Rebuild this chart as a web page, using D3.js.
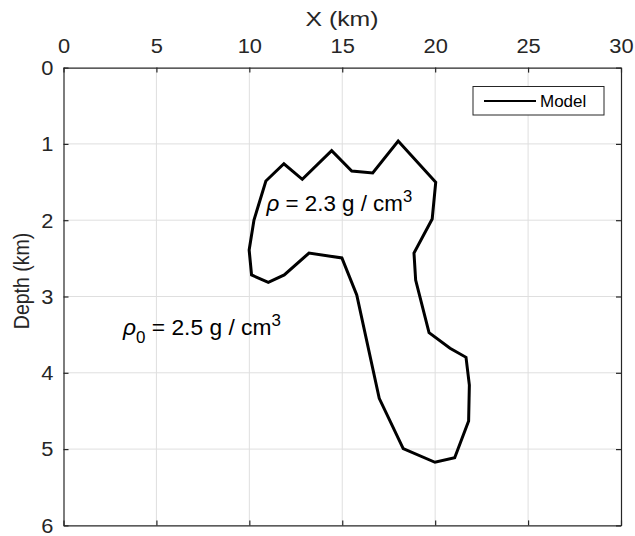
<!DOCTYPE html>
<html>
<head>
<meta charset="utf-8">
<script src="https://cdn.jsdelivr.net/npm/d3@7"></script>
<style>
  body { margin: 0; background: #fff; }
  svg { display: block; font-family: "Liberation Sans", Arial, Helvetica, sans-serif; }
</style>
</head>
<body>
<svg id="chart" width="635" height="536"></svg>
<script>
// Anomalous body outline: horizontal position (km) and depth (km)
const bodyX = [10.89, 11.86, 12.85, 14.43, 15.51, 16.64, 18.01, 20.03, 19.84, 18.86, 18.95, 19.67,
               20.80, 21.66, 21.84, 21.80, 21.05, 19.99, 18.28, 16.99, 15.78, 14.98, 13.21, 11.88,
               11.02, 10.12, 9.99, 10.25];
const bodyDepth = [1.486, 1.26, 1.464, 1.089, 1.355, 1.381, 0.962, 1.503, 1.984, 2.43, 2.784, 3.474,
                   3.679, 3.797, 4.16, 4.632, 5.113, 5.173, 4.995, 4.334, 2.98, 2.495, 2.43, 2.718,
                   2.814, 2.718, 2.39, 1.997];
const xTicks = [0, 5, 10, 15, 20, 25, 30];
const yTicks = [0, 1, 2, 3, 4, 5, 6];

const svg = d3.select("#chart");
const plotLeft = 63.5, plotRight = 621, plotTop = 67.6, plotBottom = 525.4;
const x = d3.scaleLinear().domain([0, 30]).range([plotLeft, plotRight]);
const y = d3.scaleLinear().domain([0, 6]).range([plotTop, plotBottom]);
const axisColor = "#262626";
const stretch = 1.12; // glyphs are slightly wide

// grid
const grid = svg.append("g").attr("stroke", "#dfdfdf").attr("stroke-width", 1);
grid.selectAll(".gx").data(xTicks.slice(1, -1)).join("line")
  .attr("x1", d => x(d)).attr("x2", d => x(d)).attr("y1", plotTop).attr("y2", plotBottom);
grid.selectAll(".gy").data(yTicks.slice(1, -1)).join("line")
  .attr("y1", d => y(d)).attr("y2", d => y(d)).attr("x1", plotLeft).attr("x2", plotRight);

// axes (ticks point inward)
const tickLen = 5;
const fmt = d3.format("d");
const axTop = svg.append("g").attr("transform", `translate(0,${plotTop})`)
  .call(d3.axisTop(x).tickValues(xTicks).tickFormat(fmt).tickSizeInner(-tickLen).tickSizeOuter(0).tickPadding(15));
const axBottom = svg.append("g").attr("transform", `translate(0,${plotBottom})`)
  .call(d3.axisBottom(x).tickValues(xTicks).tickSizeInner(-tickLen).tickSizeOuter(0).tickFormat(""));
const axLeft = svg.append("g").attr("transform", `translate(${plotLeft},0)`)
  .call(d3.axisLeft(y).tickValues(yTicks).tickFormat(fmt).tickSizeInner(-tickLen).tickSizeOuter(0).tickPadding(10));
const axRight = svg.append("g").attr("transform", `translate(${plotRight},0)`)
  .call(d3.axisRight(y).tickValues(yTicks).tickSizeInner(-tickLen).tickSizeOuter(0).tickFormat(""));
[axTop, axBottom, axLeft, axRight].forEach(a => {
  a.select(".domain").attr("stroke", axisColor).attr("stroke-width", 1.2);
  a.selectAll(".tick line").attr("stroke", axisColor).attr("stroke-width", 1.2);
  a.selectAll(".tick text").attr("fill", "#262626").attr("font-size", 19.5)
    .attr("font-family", "Liberation Sans, Arial, sans-serif");
});
axTop.selectAll(".tick text").attr("dy", 0).attr("transform", `scale(${stretch},1)`);
axLeft.selectAll(".tick text").attr("dy", "0.35em").attr("x", -10 / stretch)
  .attr("transform", `scale(${stretch},1)`);

// axis titles
svg.append("text").attr("transform", `translate(342,26) scale(1.18,1)`).attr("text-anchor", "middle")
  .attr("font-size", 21).attr("fill", "#262626").text("X (km)");
svg.append("text").attr("transform", `translate(28.5,281) rotate(-90) scale(1,1.12)`)
  .attr("text-anchor", "middle").attr("font-size", 19.5).attr("fill", "#262626").text("Depth (km)");

// body outline
const line = d3.line().x((d, i) => x(bodyX[i])).y((d, i) => y(bodyDepth[i])).curve(d3.curveLinearClosed);
svg.append("path").attr("d", line(bodyX)).attr("fill", "none").attr("stroke", "#000")
  .attr("stroke-width", 3).attr("stroke-linejoin", "miter");

// density labels
const t1 = svg.append("text").attr("transform", "translate(266.5,211) scale(1.04,1)")
  .attr("font-size", 21.5).attr("fill", "#000");
t1.append("tspan").attr("font-style", "italic").text("ρ");
t1.append("tspan").text(" = 2.3 g / cm");
t1.append("tspan").attr("font-size", 16).attr("dy", -9).text("3");

const t2 = svg.append("text").attr("transform", "translate(123,335) scale(1.06,1)")
  .attr("font-size", 21.5).attr("fill", "#000");
t2.append("tspan").attr("font-style", "italic").text("ρ");
t2.append("tspan").attr("font-size", 16).attr("dy", 8).text("0");
t2.append("tspan").attr("dy", -8).text(" = 2.5 g / cm");
t2.append("tspan").attr("font-size", 16).attr("dy", -9).text("3");

// legend
const lg = svg.append("g");
lg.append("rect").attr("x", 473).attr("y", 86.5).attr("width", 131).attr("height", 28.5)
  .attr("fill", "#fff").attr("stroke", axisColor).attr("stroke-width", 1);
lg.append("line").attr("x1", 484).attr("x2", 536).attr("y1", 101).attr("y2", 101)
  .attr("stroke", "#000").attr("stroke-width", 2);
lg.append("text").attr("x", 540).attr("y", 107).attr("font-size", 17).attr("fill", "#000").text("Model");
</script>
</body>
</html>
